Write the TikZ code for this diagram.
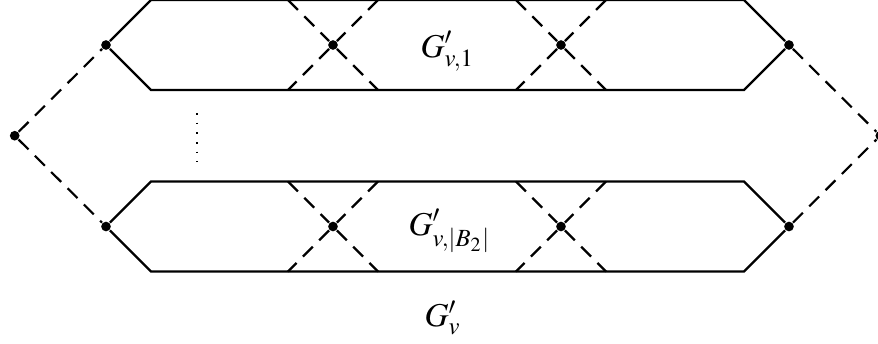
\documentclass[tikz,border=0pt]{standalone}
\usepackage{amsmath}
\usepackage{mathptmx}
\usetikzlibrary{positioning}

\begin{document}
\begin{tikzpicture}[
  x=0.3pt, y=-0.3pt,
  vtx/.style={circle, fill, inner sep=0pt, minimum size=2.9pt},
  edge/.style={line width=0.65pt},
  link/.style={line width=0.65pt, dash pattern=on 4.2pt off 2.7pt},
  lbl/.style={anchor=base west, inner sep=0pt}
]
\useasboundingbox (0,0) rectangle (878,343);

% outer vertices
\node[vtx] (s) at (14.7,135.7) {};
\node[vtx] (t) at (880.3,135.7) {};

% the two gadget copies
\foreach \i/\y in {1/45, 2/226.5} {
  \node[vtx] (l\i) at (106,\y) {};
  \node[vtx] (r\i) at (789,\y) {};
  \node[vtx] (xa\i) at (333,\y) {};
  \node[vtx] (xb\i) at (561,\y) {};
  \coordinate (tl\i) at (151,\y-45);
  \coordinate (bl\i) at (151,\y+45);
  \coordinate (tr\i) at (744,\y-45);
  \coordinate (br\i) at (744,\y+45);
  \coordinate (xatl\i) at (288,\y-45);
  \coordinate (xatr\i) at (378,\y-45);
  \coordinate (xabl\i) at (288,\y+45);
  \coordinate (xabr\i) at (378,\y+45);
  \coordinate (xbtl\i) at (516,\y-45);
  \coordinate (xbtr\i) at (606,\y-45);
  \coordinate (xbbl\i) at (516,\y+45);
  \coordinate (xbbr\i) at (606,\y+45);
  \draw[edge] (l\i) -- (tl\i) -- (tr\i) -- (r\i) -- (br\i) -- (bl\i) -- (l\i);
  \draw[link] (xatl\i) -- (xa\i) -- (xabr\i);
  \draw[link] (xatr\i) -- (xa\i) -- (xabl\i);
  \draw[link] (xbtl\i) -- (xb\i) -- (xbbr\i);
  \draw[link] (xbtr\i) -- (xb\i) -- (xbbl\i);
  \draw[link] (s) -- (l\i);
  \draw[link] (r\i) -- (t);
}

% vertical dots between copies
\coordinate (d1) at (197,113);
\coordinate (d2) at (197,162);
\draw[line width=0.55pt, dash pattern=on 0.5pt off 2.4pt] (d1) -- (d2);

% labels
\node[lbl] (g1) at (420,57) {$G'_{v,1}$};
\node[lbl] (g2) at (408,235) {$G'_{v,|B_2|}$};
\node[lbl] (g) at (424,326.5) {$G'_{v}$};
\end{tikzpicture}
\end{document}
